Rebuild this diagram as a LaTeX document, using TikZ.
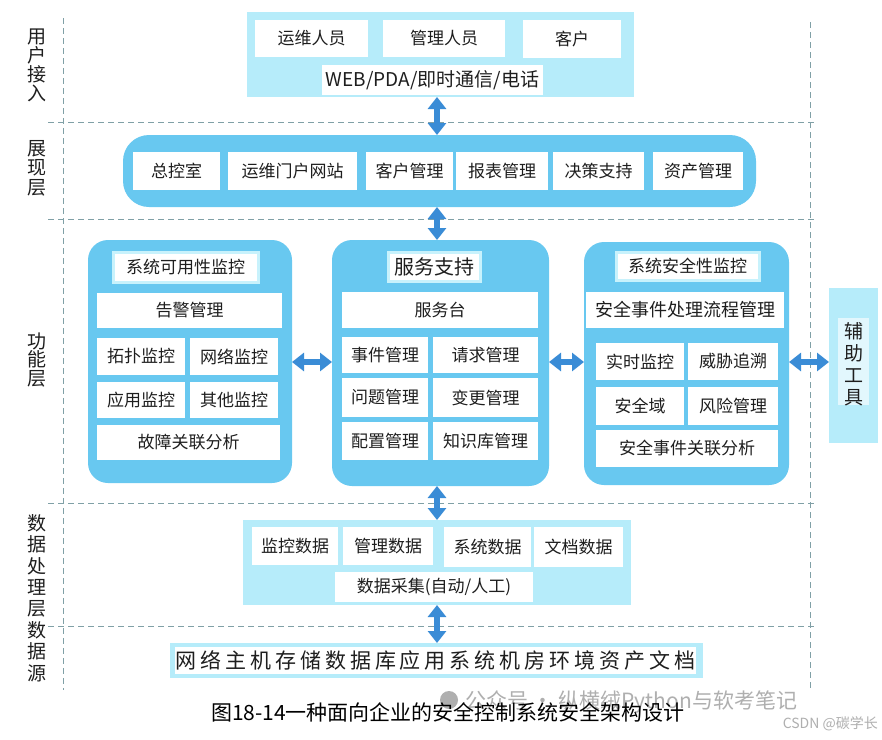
\documentclass[tikz,border=0pt]{standalone}
\usepackage{fontspec}
\setmainfont{Noto Sans CJK SC}
\usetikzlibrary{arrows.meta}
\definecolor{hatch}{RGB}{182,236,250}
\definecolor{blk}{RGB}{104,200,240}
\definecolor{ring}{RGB}{200,242,252}
\definecolor{arrc}{RGB}{58,140,214}
\definecolor{dashc}{RGB}{128,160,166}
\definecolor{wm}{RGB}{175,175,175}
\definecolor{ink}{RGB}{30,30,30}
\newcommand\place[7]{\node[#1,minimum width={(#5-#3)*1pt},minimum height={(#6-#4)*1pt}] (#2) at ({(#3+#5)/2},{(#4+#6)/2}) {#7};}
\tikzset{
  wbox/.style={fill=white, inner sep=0pt, outer sep=0pt, text=ink, font=\fontsize{17}{17}\selectfont},
  tbox/.style={wbox, draw=ring, line width=3pt},
  layerbox/.style={fill=hatch, inner sep=0pt, outer sep=0pt},
  fblock/.style={fill=blk, rounded corners=20pt, inner sep=0pt, outer sep=0pt},
  dline/.style={dashc, line width=1pt, dash pattern=on 6pt off 4pt},
  arr/.style={arrc, line width=6pt, {Triangle[width=18pt,length=12pt]}-{Triangle[width=18pt,length=12pt]}},
  lab/.style={align=center, text=ink, inner sep=0pt},
}
\begin{document}
\begin{tikzpicture}[x=1pt,y=-1pt]
\useasboundingbox (0,0) rectangle (882,739);
\fill[white] (0,0) rectangle (882,739);
% dashed grid
\draw[dline] (63,18) -- (63,690);
\draw[dline] (810,22) -- (810,690);
\foreach \yy in {122,219,503,626} \draw[dline] (48,\yy) -- (815,\yy);
% layer labels
\node[lab, font=\fontsize{19}{19}\selectfont] (l1) at (37,65) {用\\户\\接\\入};
\node[lab, font=\fontsize{19}{19.5}\selectfont] (l2) at (37,168) {展\\现\\层};
\node[lab, font=\fontsize{19}{18.5}\selectfont] (l3) at (37,360) {功\\能\\层};
\node[lab, font=\fontsize{19}{21.4}\selectfont] (l4) at (37,598) {数\\据\\处\\理\\层\\数\\据\\源};
% user access
\place{layerbox}{top}{247}{12}{634}{97}{}
\place{wbox}{u1}{255}{20}{368}{57}{运维人员}
\place{wbox}{u2}{383}{20}{505}{57}{管理人员}
\place{wbox}{u3}{523}{20}{621}{58}{客户}
\place{wbox}{u4}{322}{65}{543}{95}{\fontsize{19}{19}\selectfont WEB/PDA/即时通信/电话}
% presentation
\place{fblock,rounded corners=26pt}{pres}{123}{135}{756}{207}{}
\place{wbox}{p1}{133}{152}{220}{190}{总控室}
\place{wbox}{p2}{228}{152}{357}{190}{运维门户网站}
\place{wbox}{p3}{366}{152}{453}{190}{客户管理}
\place{wbox}{p4}{456}{152}{548}{190}{报表管理}
\place{wbox}{p5}{553}{152}{644}{190}{决策支持}
\place{wbox}{p6}{653}{152}{743}{190}{资产管理}
% function left
\place{fblock}{fl}{88}{240}{292}{483}{}
\place{tbox}{fl0}{113}{252}{258}{282}{系统可用性监控}
\place{wbox}{fl1}{97}{293}{282}{328}{告警管理}
\place{wbox}{fl2}{97}{338}{185}{375}{拓扑监控}
\place{wbox}{fl3}{190}{338}{278}{375}{网络监控}
\place{wbox}{fl4}{97}{382}{185}{418}{应用监控}
\place{wbox}{fl5}{190}{382}{278}{418}{其他监控}
\place{wbox}{fl6}{97}{425}{280}{460}{故障关联分析}
% function center
\place{fblock}{fc}{332}{240}{549}{486}{}
\place{tbox}{fc0}{388}{252}{480}{281}{\fontsize{20}{20}\selectfont 服务支持}
\place{wbox}{fc1}{342}{292}{538}{328}{服务台}
\place{wbox}{fc2}{342}{337}{428}{373}{事件管理}
\place{wbox}{fc3}{433}{337}{538}{373}{请求管理}
\place{wbox}{fc4}{342}{378}{428}{417}{问题管理}
\place{wbox}{fc5}{433}{378}{538}{417}{变更管理}
\place{wbox}{fc6}{342}{422}{428}{460}{配置管理}
\place{wbox}{fc7}{433}{422}{538}{460}{知识库管理}
% function right
\place{fblock}{fr}{584}{242}{789}{485}{}
\place{tbox}{fr0}{616}{252}{759}{280}{系统安全性监控}
\place{wbox}{fr1}{586}{292}{784}{328}{\fontsize{18}{18}\selectfont 安全事件处理流程管理}
\place{wbox}{fr2}{596}{343}{684}{380}{实时监控}
\place{wbox}{fr3}{688}{343}{778}{380}{威胁追溯}
\place{wbox}{fr4}{596}{387}{684}{425}{安全域}
\place{wbox}{fr5}{688}{387}{778}{425}{风险管理}
\place{wbox}{fr6}{596}{430}{778}{467}{安全事件关联分析}
% aux tools
\place{layerbox}{aux}{829}{288}{878}{443}{}
\place{wbox,fill=white!60!hatch}{auxin}{838}{318}{869}{405}{}
\node[lab, font=\fontsize{19}{22}\selectfont] (auxt) at (853.5,364) {辅\\助\\工\\具};
% data processing
\place{layerbox}{dp}{243}{520}{631}{605}{}
\place{wbox}{d1}{252}{527}{338}{565}{监控数据}
\place{wbox}{d2}{343}{527}{433}{565}{管理数据}
\place{wbox}{d3}{444}{527}{531}{567}{系统数据}
\place{wbox}{d4}{534}{527}{623}{567}{文档数据}
\place{wbox}{d5}{335}{572}{533}{602}{数据采集(自动/人工)}
% data source
\place{layerbox}{ds}{170}{643}{703}{678}{}
\place{wbox}{dsin}{175}{647}{696}{674}{\fontsize{21}{21}\selectfont\addfontfeature{LetterSpace=19}网络主机存储数据库应用系统机房环境资产文档}
% arrows
\coordinate (ax) at (437,0);
\coordinate (ay) at (0,362);
\draw[arr] (ax |- top.south) -- (ax |- pres.north);
\draw[arr] (ax |- pres.south) -- (ax |- fc.north);
\draw[arr] (ax |- fc.south) -- (ax |- dp.north);
\draw[arr] (ax |- dp.south) -- (ax |- ds.north);
\draw[arr] (ay -| fl.east) -- (ay -| fc.west);
\draw[arr] (ay -| fc.east) -- (ay -| fr.west);
\draw[arr] (ay -| fr.east) -- (ay -| aux.west);
% watermark
\fill[wm] (449,700) circle (9pt);
\node[anchor=west, inner sep=0pt, text=wm, font=\fontsize{21}{21}\selectfont] (wm1) at (465,702) {公众号 · 纵横绒Python与软考笔记};
\node[anchor=east, inner sep=0pt, text=wm, font=\fontsize{14}{14}\selectfont] (wm2) at (878,724) {CSDN @碳学长};
% caption
\node[inner sep=0pt, text=black, font=\fontsize{21}{21}\selectfont] (cap) at (448,712) {图18-14一种面向企业的安全控制系统安全架构设计};
\end{tikzpicture}
\end{document}
